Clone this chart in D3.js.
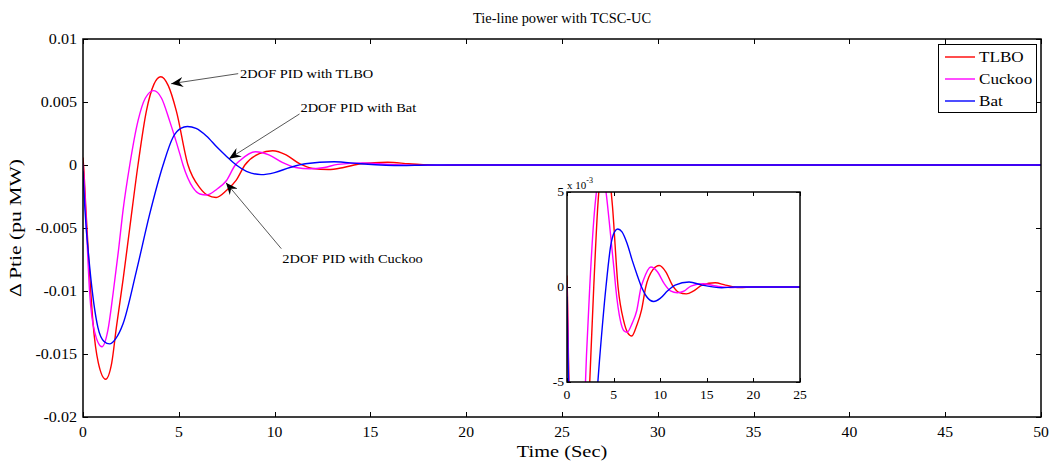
<!DOCTYPE html>
<html>
<head>
<meta charset="utf-8">
<script src="https://cdn.jsdelivr.net/npm/d3@7"></script>
<style>
  body { margin: 0; background: #fff; }
  svg { display: block; font-family: "Liberation Serif", "Times New Roman", serif; }
</style>
</head>
<body>
<div id="chart"></div>
<script>
// data (time in s, delta P tie in pu MW)
var tlboTime  = [0, 0.05, 0.15, 0.3, 0.52, 0.8, 1.18, 1.5, 1.74, 2.1, 2.44, 2.87, 3.31, 3.7, 4.06, 4.45, 4.87, 5.48, 6.09, 6.5, 6.95, 7.5, 8.0, 8.45, 9.2, 9.9, 10.6, 11.3, 12.0, 12.8, 13.6, 14.5, 15.9, 17.0, 18.5, 20, 50];
var tlboValue = [0.0006, -0.0005, -0.0035, -0.0075, -0.0125, -0.0157, -0.0170, -0.0157, -0.0129, -0.0090, -0.0050, 0, 0.0043, 0.0064, 0.0070, 0.0063, 0.0043, 0, -0.0018, -0.0024, -0.00258, -0.0020, -0.0012, 0, 0.0009, 0.00113, 0.0008, 0.0001, -0.00028, -0.00036, -0.0002, 0.0001, 0.00022, 0.0001, -0.00003, 0, 0];

var cuckooTime  = [0, 0.05, 0.15, 0.35, 0.6, 0.99, 1.3, 1.57, 1.85, 2.09, 2.44, 2.87, 3.25, 3.69, 4.1, 4.52, 5.05, 5.22, 5.74, 6.1, 6.45, 7.0, 7.48, 7.95, 8.18, 9.0, 9.7, 10.4, 11.1, 11.85, 12.6, 13.3, 14.6, 16.0, 17.5, 19, 50];
var cuckooValue = [0.0001, -0.001, -0.004, -0.0102, -0.0132, -0.01442, -0.0131, -0.0102, -0.0068, -0.0036, 0, 0.0035, 0.0053, 0.0059, 0.0053, 0.0035, 0.0009, 0, -0.0018, -0.0023, -0.00238, -0.0019, -0.00125, 0, 0.00034, 0.00105, 0.0008, 0.0002, -0.0002, -0.0003, -0.0002, 0.00005, 0.00017, 0.00005, -0.00003, 0, 0];

var batTime  = [0, 0.1, 0.35, 0.78, 1.1, 1.39, 1.7, 2.09, 2.79, 3.48, 4.18, 4.7, 5.1, 5.45, 5.9, 6.44, 7.0, 7.48, 8.0, 8.53, 9.3, 10.0, 10.8, 11.6, 13.1, 14.5, 16.6, 18, 50];
var batValue = [-0.0005, -0.0035, -0.0081, -0.0129, -0.0140, -0.0142, -0.0138, -0.0126, -0.0084, -0.0039, 0, 0.0022, 0.0029, 0.00305, 0.0029, 0.0023, 0.0014, 0.0007, 0, -0.0005, -0.00076, -0.0006, -0.0002, 0.0001, 0.00026, 0.0001, -0.00004, 0, 0];

var seriesNames  = ["TLBO", "Cuckoo", "Bat"];
var seriesColors = ["#ff0000", "#ff00ff", "#0000ff"];

var xTicks = [0, 5, 10, 15, 20, 25, 30, 35, 40, 45, 50];
var yTicks = [0.01, 0.005, 0, -0.005, -0.01, -0.015, -0.02];
var insetXTicks = [0, 5, 10, 15, 20, 25];
var insetYTicks = [5, 0, -5];

// annotation: text position, line start, arrow tip (data coords)
var notes = [
  { text: "2DOF PID with TLBO",   tx: 8.2,  ty: 0.00725,  lx: 8.1,  ly: 0.00725, ax: 4.6,  ay: 0.00645 },
  { text: "2DOF PID with Bat",    tx: 11.35, ty: 0.00455, lx: 11.3, ly: 0.00405, ax: 7.62, ay: 0.0005 },
  { text: "2DOF PID with Cuckoo", tx: 10.4, ty: -0.00744, lx: 10.35, ly: -0.00664, ax: 7.46, ay: -0.0014 }
];

var W = 1053, H = 462;
var svg = d3.select("#chart").append("svg").attr("width", W).attr("height", H);

// text in the original is a bit wider than Liberation Serif, so stretch it horizontally
function addText(parent, px, py, str, size, anchor, sx, rot) {
  var g = parent.append("g")
    .attr("transform", "translate(" + px + "," + py + ")" + (rot ? " rotate(" + rot + ")" : "") + " scale(" + sx + ",1)");
  return g.append("text").attr("text-anchor", anchor || "start").attr("font-size", size).text(str);
}

var defs = svg.append("defs");
defs.append("marker")
  .attr("id", "arrow")
  .attr("viewBox", "0 0 12 10")
  .attr("refX", 12).attr("refY", 5)
  .attr("markerWidth", 12).attr("markerHeight", 10)
  .attr("markerUnits", "userSpaceOnUse")
  .attr("orient", "auto")
  .append("path")
  .attr("d", "M0,0 L12,5 L0,10 L4,5 Z")
  .attr("fill", "#000");

var series = [
  tlboTime.map(function (t, i) { return [t, tlboValue[i]]; }),
  cuckooTime.map(function (t, i) { return [t, cuckooValue[i]]; }),
  batTime.map(function (t, i) { return [t, batValue[i]]; })
];

// main axes
var x = d3.scaleLinear().domain([0, 50]).range([83, 1041]);
var y = d3.scaleLinear().domain([-0.02, 0.01]).range([417, 39]);

function drawFrame(g, xs, ys, xt, yt, tickLen) {
  var x0 = xs.range()[0], x1 = xs.range()[1], y0 = ys.range()[0], y1 = ys.range()[1];
  g.append("rect").attr("x", x0).attr("y", y1).attr("width", x1 - x0).attr("height", y0 - y1)
    .attr("fill", "#fff").attr("stroke", "none");
  var tk = g.append("g").attr("stroke", "#000").attr("stroke-width", 1);
  xt.forEach(function (v) {
    var px = Math.round(xs(v)) + 0.5;
    tk.append("line").attr("x1", px).attr("x2", px).attr("y1", y0).attr("y2", y0 - tickLen);
    tk.append("line").attr("x1", px).attr("x2", px).attr("y1", y1).attr("y2", y1 + tickLen);
  });
  yt.forEach(function (v) {
    var py = Math.round(ys(v)) + 0.5;
    tk.append("line").attr("x1", x0).attr("x2", x0 + tickLen).attr("y1", py).attr("y2", py);
    tk.append("line").attr("x1", x1).attr("x2", x1 - tickLen).attr("y1", py).attr("y2", py);
  });
}

function drawBorder(g, xs, ys) {
  var x0 = xs.range()[0], x1 = xs.range()[1], y0 = ys.range()[0], y1 = ys.range()[1];
  g.append("rect").attr("x", x0).attr("y", y1).attr("width", x1 - x0).attr("height", y0 - y1)
    .attr("fill", "none").attr("stroke", "#000").attr("stroke-width", 1.5);
}

var main = svg.append("g");
drawFrame(main, x, y, xTicks, yTicks, 5);

main.append("clipPath").attr("id", "clipMain").append("rect")
  .attr("x", 83).attr("y", 39).attr("width", 1041 - 83).attr("height", 417 - 39);

var line = d3.line().x(function (d) { return x(d[0]); }).y(function (d) { return y(d[1]); })
  .curve(d3.curveMonotoneX);

var curves = main.append("g").attr("clip-path", "url(#clipMain)");
series.forEach(function (s, i) {
  curves.append("path").datum(s).attr("d", line)
    .attr("fill", "none").attr("stroke", seriesColors[i]).attr("stroke-width", 1.4);
});
drawBorder(main, x, y);

// tick labels
xTicks.forEach(function (d) { addText(main, x(d), 437, d, 14, "middle", 1.12); });
yTicks.forEach(function (d) { addText(main, 77, y(d) + 5, d, 14, "end", 1.15); });

addText(svg, 562, 23, "Tie-line power with TCSC-UC", 14, "middle", 1.03);
addText(svg, 562, 457, "Time (Sec)", 17, "middle", 1.2);
addText(svg, 21, 228, "\u0394 Ptie (pu MW)", 17, "middle", 1.27, -90);

// annotations
notes.forEach(function (n) {
  main.append("line")
    .attr("x1", x(n.lx)).attr("y1", y(n.ly)).attr("x2", x(n.ax)).attr("y2", y(n.ay))
    .attr("stroke", "#444").attr("stroke-width", 0.9).attr("marker-end", "url(#arrow)");
  addText(main, x(n.tx), y(n.ty) + 4, n.text, 13, "start", 1.11);
});

// legend
var lg = svg.append("g");
lg.append("rect").attr("x", 938.5).attr("y", 44.5).attr("width", 98).attr("height", 68)
  .attr("fill", "#fff").attr("stroke", "#000").attr("stroke-width", 1);
seriesNames.forEach(function (name, i) {
  var ly = 57 + i * 22;
  lg.append("line").attr("x1", 945).attr("x2", 975).attr("y1", ly).attr("y2", ly)
    .attr("stroke", seriesColors[i]).attr("stroke-width", 1.4);
  addText(lg, 979, ly + 5, name, 15, "start", 1.14);
});

// inset
var ix = d3.scaleLinear().domain([0, 25]).range([567, 800]);
var iy = d3.scaleLinear().domain([-5, 5]).range([382, 192]);
var inset = svg.append("g");
drawFrame(inset, ix, iy, insetXTicks, insetYTicks, 4);
inset.append("clipPath").attr("id", "clipInset").append("rect")
  .attr("x", 567).attr("y", 192).attr("width", 800 - 567).attr("height", 382 - 192);
var iline = d3.line().x(function (d) { return ix(d[0]); }).y(function (d) { return iy(d[1] * 1000); })
  .curve(d3.curveMonotoneX);
var icurves = inset.append("g").attr("clip-path", "url(#clipInset)");
series.forEach(function (s, i) {
  icurves.append("path").datum(s).attr("d", iline)
    .attr("fill", "none").attr("stroke", seriesColors[i]).attr("stroke-width", 1.4);
});
drawBorder(inset, ix, iy);
insetXTicks.forEach(function (d) { addText(inset, ix(d), 399, d, 13, "middle", 1.05); });
insetYTicks.forEach(function (d) { addText(inset, 564, iy(d) + 4, d, 13, "end", 1.05); });
var ex = inset.append("text").attr("x", 567).attr("y", 189).attr("font-size", 11);
ex.append("tspan").text("x 10");
ex.append("tspan").attr("dy", -6).attr("font-size", 8).text("-3");
</script>
</body>
</html>
